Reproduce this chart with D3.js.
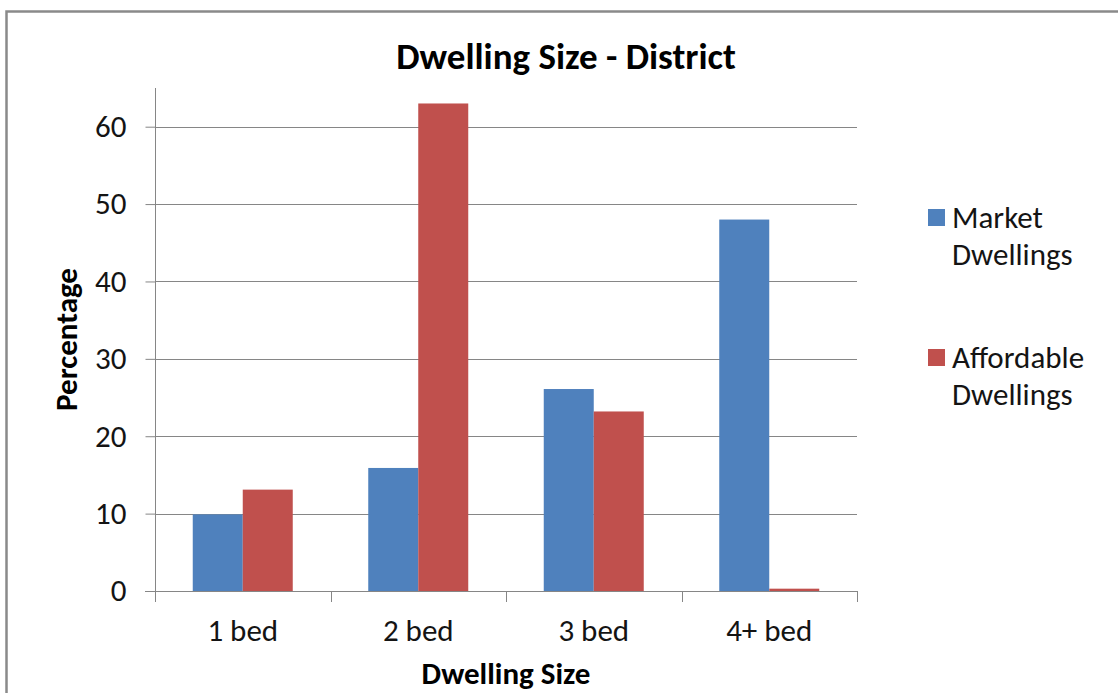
<!DOCTYPE html>
<html>
<head>
<meta charset="utf-8">
<script src="https://cdn.jsdelivr.net/npm/d3@7"></script>
<style>
  html, body { margin: 0; padding: 0; background: #fff; }
  svg { display: block; font-family: Carlito, Lato, "Open Sans", sans-serif; }
</style>
</head>
<body>
<svg id="chart" width="1118" height="693"></svg>
<script>
// Dwelling size mix across the district, percentages by bedroom count
const categories = ["1 bed", "2 bed", "3 bed", "4+ bed"];
const seriesNames = ["Market Dwellings", "Affordable Dwellings"];
const marketValues = [9.9, 15.9, 26.1, 48.0];
const affordableValues = [13.1, 63.0, 23.2, 0.3];
const yTicks = [0, 10, 20, 30, 40, 50, 60];
const yMax = 65;

const colors = { "Market Dwellings": "#4F81BD", "Affordable Dwellings": "#C0504D" };
const valuesBySeries = { "Market Dwellings": marketValues, "Affordable Dwellings": affordableValues };

const svg = d3.select("#chart");
const plot = { left: 155, right: 857, top: 88, bottom: 591 };
const axisColor = "#868686";
const textColor = "#141414";

// outer chart frame
svg.append("rect")
  .attr("x", 6.5).attr("y", 11.5)
  .attr("width", 1130).attr("height", 700)
  .attr("fill", "#fff")
  .attr("stroke", "#8a8a8a").attr("stroke-width", 2.5);

const x0 = d3.scaleBand().domain(categories).range([plot.left, plot.right]).padding(0);
const x1 = d3.scaleBand().domain(seriesNames).range([0, x0.bandwidth()])
  .paddingInner(0).paddingOuter(0.755);
const y = d3.scaleLinear().domain([0, yMax]).range([plot.bottom, plot.top]);

// horizontal gridlines
svg.append("g")
  .selectAll("line")
  .data(yTicks.filter(t => t > 0))
  .join("line")
  .attr("x1", plot.left).attr("x2", plot.right)
  .attr("y1", d => Math.round(y(d)) + 0.5).attr("y2", d => Math.round(y(d)) + 0.5)
  .attr("stroke", axisColor).attr("stroke-width", 1);

// bars
const rows = categories.map((c, i) => ({ cat: c, vals: seriesNames.map(s => ({ s, v: valuesBySeries[s][i] })) }));
svg.append("g")
  .selectAll("g")
  .data(rows)
  .join("g")
  .attr("transform", d => `translate(${x0(d.cat)},0)`)
  .selectAll("rect")
  .data(d => d.vals)
  .join("rect")
  .attr("x", d => x1(d.s))
  .attr("width", x1.bandwidth())
  .attr("y", d => y(d.v))
  .attr("height", d => y(0) - y(d.v))
  .attr("fill", d => colors[d.s]);

// y axis
const yAxis = svg.append("g")
  .attr("transform", `translate(${plot.left + 0.5},0)`)
  .call(d3.axisLeft(y).tickValues(yTicks).tickSize(10).tickPadding(19).tickSizeOuter(0));
yAxis.select(".domain").attr("stroke", axisColor)
  .attr("d", `M0,${plot.top}V${plot.bottom}`);
yAxis.selectAll(".tick line").attr("stroke", axisColor);
yAxis.selectAll(".tick text")
  .attr("font-size", 31).attr("fill", textColor)
  .attr("font-family", "Carlito, Lato, sans-serif");

// x axis: baseline, boundary ticks, centred labels
const xg = svg.append("g");
xg.append("line")
  .attr("x1", plot.left - 10).attr("x2", plot.right)
  .attr("y1", y(0) + 0.5).attr("y2", y(0) + 0.5)
  .attr("stroke", axisColor);
const bounds = categories.map(c => x0(c)).concat([x0.range()[1]]);
xg.selectAll("line.bt")
  .data(bounds)
  .join("line")
  .attr("class", "bt")
  .attr("x1", d => Math.round(d) + 0.5).attr("x2", d => Math.round(d) + 0.5)
  .attr("y1", y(0)).attr("y2", y(0) + 11)
  .attr("stroke", axisColor);
xg.selectAll("text")
  .data(categories)
  .join("text")
  .attr("x", d => x0(d) + x0.bandwidth() / 2)
  .attr("y", 641)
  .attr("text-anchor", "middle")
  .attr("font-size", 31).attr("fill", textColor)
  .text(d => d);

// titles
svg.append("text")
  .attr("x", 566).attr("y", 69)
  .attr("text-anchor", "middle")
  .attr("font-size", 37).attr("font-weight", "bold")
  .text("Dwelling Size - District");

svg.append("text")
  .attr("x", (plot.left + plot.right) / 2).attr("y", 684)
  .attr("text-anchor", "middle")
  .attr("font-size", 31).attr("font-weight", "bold")
  .text("Dwelling Size");

svg.append("text")
  .attr("transform", `translate(77,${(plot.top + plot.bottom) / 2}) rotate(-90)`)
  .attr("text-anchor", "middle")
  .attr("font-size", 31).attr("font-weight", "bold")
  .text("Percentage");

// legend
const legendRows = [
  { name: seriesNames[0], lines: ["Market", "Dwellings"], top: 209 },
  { name: seriesNames[1], lines: ["Affordable", "Dwellings"], top: 349 }
];
const lg = svg.append("g").selectAll("g").data(legendRows).join("g");
lg.append("rect")
  .attr("x", 928).attr("y", d => d.top)
  .attr("width", 17).attr("height", 17)
  .attr("fill", d => colors[d.name]);
lg.append("text")
  .attr("x", 952).attr("y", d => d.top + 19)
  .attr("font-size", 31).attr("fill", textColor)
  .selectAll("tspan")
  .data(d => d.lines)
  .join("tspan")
  .attr("x", 952)
  .attr("dy", (d, i) => i === 0 ? 0 : 37)
  .text(d => d);
</script>
</body>
</html>
